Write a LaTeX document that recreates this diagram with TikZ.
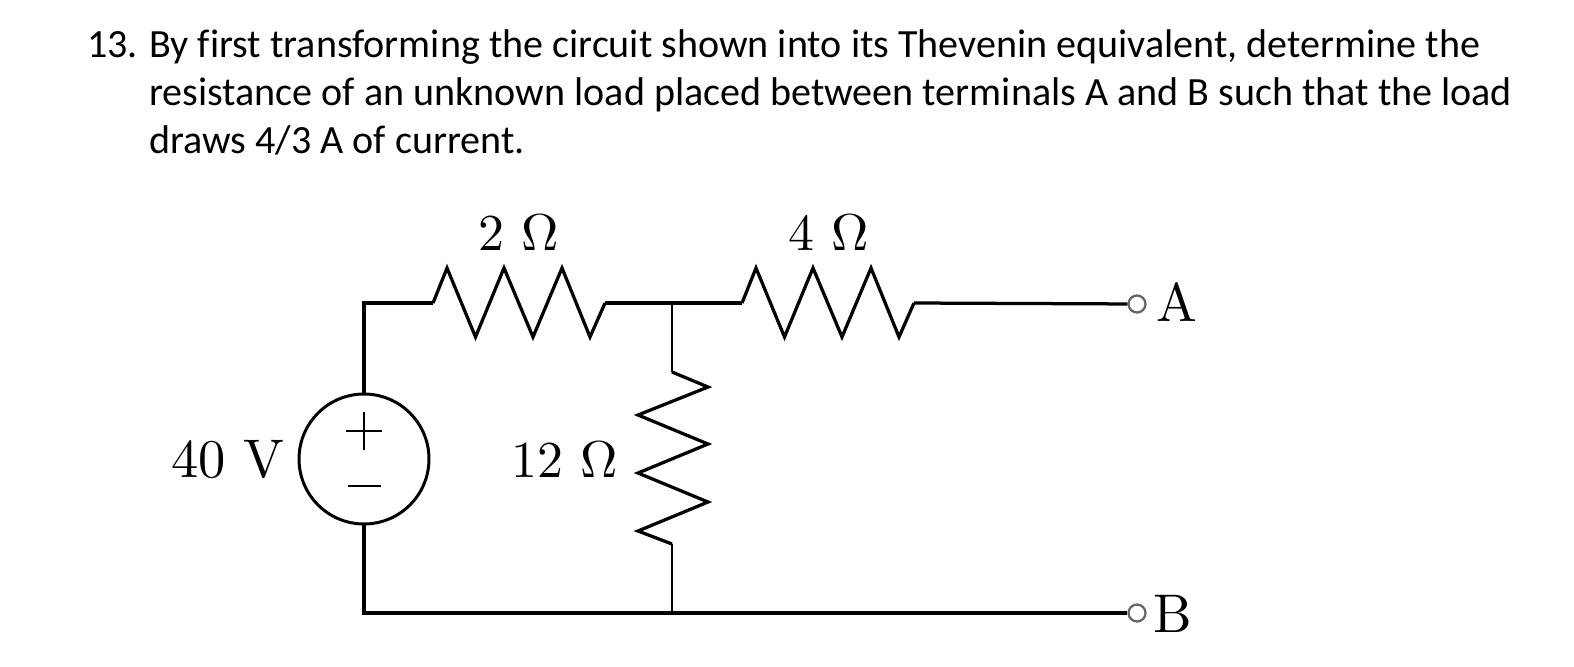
\documentclass[tikz,border=0pt]{standalone}
\usepackage{fontspec}
\usepackage{tikz}
\newfontfamily\quesfont[Ligatures=NoCommon]{Carlito}
\newcommand{\lab}[2][3.1]{\scalebox{#1}{#2}}
\tikzstyle{coord} = [coordinate]
\tikzstyle{ques} = [anchor=base west, inner sep=0pt, font=\quesfont\fontsize{22.8pt}{27pt}\selectfont]
\tikzstyle{lab} = [anchor=base, inner sep=0pt]
\tikzstyle{wire} = [line width=1.85pt, line join=miter]
\tikzstyle{thinwire} = [line width=1.3pt]
\tikzstyle{source} = [circle, draw=black, line width=1.7pt, minimum size=2.6cm, inner sep=0pt]
\tikzstyle{terminal} = [circle, draw=black!60, line width=1.3pt, fill=white, minimum size=0.34cm, inner sep=0pt]

\begin{document}
\begin{tikzpicture}[x=0.02cm, y=-0.02cm]
	\useasboundingbox (0,0) rectangle (1574,666);

	% question text
	\node (num) [ques] at (87,57) {13.};
	\node (line1) [ques] at (149,57) {By first transforming the circuit shown into its Thevenin equivalent, determine the};
	\node (line2) [ques] at (149,105) {resistance of an unknown load placed between terminals A and B such that the load};
	\node (line3) [ques] at (149,153) {draws 4/3 A of current.};

	% corners and junctions
	\node (tl) [coord] at (364,303) {};
	\node (bl) [coord] at (364,613) {};
	\node (jt) [coord] at (672,303) {};
	\node (jb) [coord] at (672,613) {};
	\node (r2in) [coord] at (433,303) {};
	\node (r2out) [coord] at (605,303) {};
	\node (r4in) [coord] at (742,303) {};
	\node (r4out) [coord] at (914,303) {};
	\node (r12in) [coord] at (672,372) {};
	\node (r12out) [coord] at (672,544) {};

	\node (src) [source] at (364,459) {};
	\node (ta) [terminal] at (1137,304) {};
	\node (tb) [terminal] at (1137,613) {};

	% wires
	\draw [wire] (src) -- (tl) -- (r2in);
	\draw [wire] (r2in) -- ++(14,-35) -- ++(28.5,69) -- ++(28.5,-69) -- ++(29,69) -- ++(29,-69) -- ++(28,69) -- (r2out);
	\draw [wire] (r2out) -- (r4in);
	\draw [wire] (r4in) -- ++(14,-35) -- ++(28.5,69) -- ++(28.5,-69) -- ++(29,69) -- ++(29,-69) -- ++(28,69) -- (r4out);
	\draw [wire] (r4out) -- (ta);
	\draw [thinwire] (jt) -- (r12in);
	\draw [wire] (r12in) -- ++(36,15) -- ++(-70,28) -- ++(70,29) -- ++(-70,29) -- ++(70,29) -- ++(-70,29) -- (r12out);
	\draw [thinwire] (r12out) -- (jb);
	\draw [wire] (src) -- (bl) -- (tb);

	% source polarity
	\node (plus) [coord] at (364,431) {};
	\node (minus) [coord] at (364,486) {};
	\draw [thinwire] ([xshift=-0.36cm]plus) -- ([xshift=0.36cm]plus);
	\draw [thinwire] ([yshift=0.38cm]plus) -- ([yshift=-0.38cm]plus);
	\draw [thinwire] ([xshift=-0.33cm]minus) -- ([xshift=0.33cm]minus);

	% labels
	\node (lr2) [lab] at (519,250) {\lab[2.95]{2 $\Omega$}};
	\node (lr4) [lab] at (829,250) {\lab[2.95]{4 $\Omega$}};
	\node (lr12) [lab] at (565,477) {\lab[2.95]{12 $\Omega$}};
	\node (lv) [lab] at (228,477) {\lab{40 V}};
	\node (la) [lab] at (1177,321) {\lab{A}};
	\node (lb) [lab] at (1173,632) {\lab{B}};
\end{tikzpicture}
\end{document}
